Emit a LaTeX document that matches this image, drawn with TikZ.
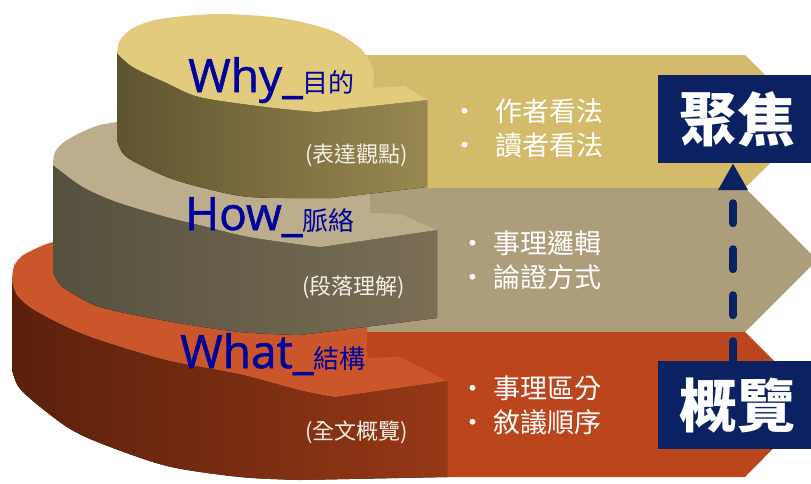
\documentclass[tikz,border=0pt]{standalone}
\usepackage{fontspec}
\setmainfont{Noto Sans CJK TC}
\newfontfamily\latinfont[FakeBold=1.2]{Open Sans}
\usetikzlibrary{arrows.meta, positioning}

\definecolor{bandwhy}{HTML}{D4BB6B}
\definecolor{bandhow}{HTML}{AD9E7B}
\definecolor{bandwhat}{HTML}{BB461E}
\definecolor{whytop}{HTML}{E2CB7D}
\definecolor{whyside1}{HTML}{5E5430}
\definecolor{whyside2}{HTML}{AB985E}
\definecolor{whyside3}{HTML}{998850}
\definecolor{howtop}{HTML}{BCAE8C}
\definecolor{howside1}{HTML}{56503F}
\definecolor{howside2}{HTML}{8A7E62}
\definecolor{howside3}{HTML}{7A6F55}
\definecolor{whattop}{HTML}{CC562C}
\definecolor{whatside1}{HTML}{5A200C}
\definecolor{whatside2}{HTML}{8E3415}
\definecolor{whatside3}{HTML}{963816}
\definecolor{titleblue}{HTML}{00009A}
\definecolor{notewhite}{HTML}{F4F1E8}
\definecolor{boxnavy}{HTML}{0C2161}

\begin{document}
\begin{tikzpicture}[x=1pt, y=-1pt, node distance=198pt,
    tiertitle/.style={text=titleblue, inner sep=0pt, anchor=base west},
    tiernote/.style={text=notewhite, inner sep=0pt, anchor=west, font=\fontsize{22}{26}\selectfont},
    items/.style={text=white, inner sep=0pt, anchor=west, align=left, font=\fontsize{27}{34}\selectfont},
    keybox/.style={fill=boxnavy, text=white, inner sep=0pt, minimum width=158pt, minimum height=88pt,
                   font=\fontsize{58}{60}\selectfont\bfseries}]
  \useasboundingbox (0,0) rectangle (811,483);
  \clip (0,0) rectangle (811,483);

  % bands
  \fill[bandwhy]  (330,55)  -- (745,55)  -- (812,122) -- (745,188) -- (330,188) -- cycle;
  \fill[bandhow]  (330,188) -- (745,188) -- (817,260) -- (745,332) -- (330,332) -- cycle;
  \fill[bandwhat] (330,332) -- (745,332) -- (817,404) -- (745,477) -- (330,477) -- cycle;

  % what tier
  \fill[left color=whatside1, middle color=whatside2, right color=whatside3]
    (12,280) -- plot[smooth] coordinates {(12,370) (18,386) (33,401) (67,427) (100,443) (167,466) (240,477) (300,480)}
    -- (447,477) -- (447,381)
    -- plot[smooth] coordinates {(335,397) (300,390) (240,374) (167,360) (100,340) (67,327) (33,309) (17,295) (12,280)} -- cycle;
  \fill[whattop]
    plot[smooth] coordinates {(12,280) (14,266) (22,256) (35,249) (53,242) (100,232)}
    -- (367,300) -- (367,358) -- (400,357) -- (447,381)
    -- plot[smooth] coordinates {(335,397) (300,390) (240,374) (167,360) (100,340) (67,327) (33,309) (17,295) (12,280)} -- cycle;

  % how tier
  \fill[left color=howside1, middle color=howside2, right color=howside3]
    (53,165) -- plot[smooth] coordinates {(53,272) (58,282) (67,290) (100,307) (167,321) (240,332) (300,335)}
    -- (437,318) -- (437,230)
    -- plot[smooth] coordinates {(320,247) (250,237) (200,225) (167,217) (117,202) (83,187) (53,165)} -- cycle;
  \fill[howtop]
    plot[smooth] coordinates {(53,165) (55,152) (67,140) (100,125) (150,118)}
    -- (370,190) -- (370,213) -- (400,214) -- (437,230)
    -- plot[smooth] coordinates {(320,247) (250,237) (200,225) (167,217) (117,202) (83,187) (53,165)} -- cycle;

  % why tier
  \fill[left color=whyside1, middle color=whyside2, right color=whyside3]
    (117,53) -- plot[smooth] coordinates {(117,140) (122,152) (133,161) (167,177) (200,187) (250,197) (333,198)}
    -- (427,187) -- (427,100)
    -- plot[smooth] coordinates {(317,112) (267,107) (200,97) (167,83) (133,67) (117,53)} -- cycle;
  \fill[whytop]
    plot[smooth] coordinates {(117,53) (120,40) (133,28) (160,19) (217,14) (280,18) (330,30) (360,48) (373,68) (373,88)}
    -- (405,86) -- (427,100)
    -- plot[smooth] coordinates {(317,112) (267,107) (200,97) (167,83) (133,67) (117,53)} -- cycle;

  % titles and notes
  \node[tiertitle] (why)  at (188,92)  {{\fontsize{46}{50}\latinfont Why\_}{\fontsize{26}{30}\selectfont 目的}};
  \node[tiertitle] (how)  at (185,230) {{\fontsize{46}{50}\latinfont How\_}{\fontsize{26}{30}\selectfont 脈絡}};
  \node[tiertitle] (what) at (180,368) {{\fontsize{46}{50}\latinfont What\_}{\fontsize{26}{30}\selectfont 結構}};
  \node[tiernote] (whynote)  at (305,155) {(表達觀點)};
  \node[tiernote] (hownote)  at (302,287) {(段落理解)};
  \node[tiernote] (whatnote) at (305,432) {(全文概覽)};

  \node[items] (whyitems)  at (451,128) {\makebox[44pt][l]{•}作者看法\\\makebox[44pt][l]{•}讀者看法};
  \node[items] (howitems)  at (459,260) {\makebox[34pt][l]{•}事理邏輯\\\makebox[34pt][l]{•}論證方式};
  \node[items] (whatitems) at (459,405) {\makebox[34pt][l]{•}事理區分\\\makebox[34pt][l]{•}敘議順序};

  % key boxes
  \node[keybox] (focus) at (737,119) {聚焦};
  \node[keybox, below=of focus] (overview) {概覽};

  \draw[boxnavy, line width=8pt, line cap=round, dash pattern=on 20pt off 26pt,
        -{Triangle[length=27pt, width=28pt]}]
    ([xshift=-4pt]overview.north) -- ([xshift=-4pt]focus.south);
\end{tikzpicture}
\end{document}
